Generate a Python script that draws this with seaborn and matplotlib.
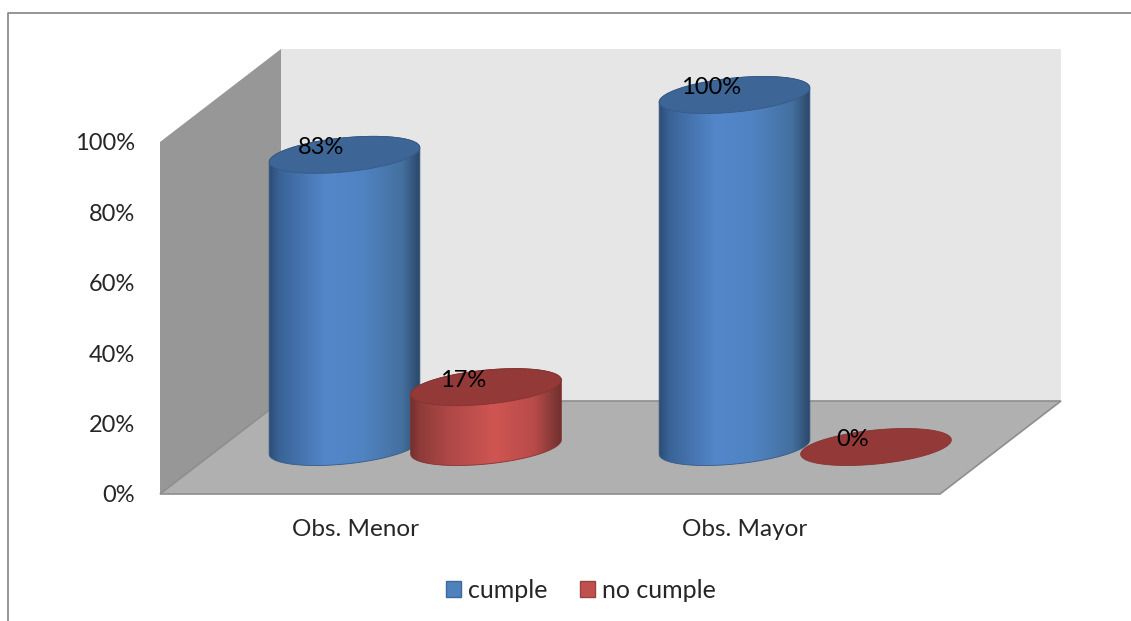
import numpy as np
import pandas as pd
import matplotlib
matplotlib.use("Agg")
import matplotlib.pyplot as plt
from matplotlib.colors import LinearSegmentedColormap
from matplotlib.lines import Line2D
from matplotlib.patches import Polygon
import seaborn as sns

categories = ["Obs. Menor", "Obs. Mayor"]
series_names = ["cumple", "no cumple"]
cumple = [83, 100]
no_cumple = [17, 0]
y_ticks = [0, 20, 40, 60, 80, 100]

df = pd.DataFrame({
    "cat": categories * 2,
    "serie": [series_names[0]] * 2 + [series_names[1]] * 2,
    "valor": cumple + no_cumple,
})

sns.set_style("white")
plt.rcParams["font.family"] = ["Lato", "DejaVu Sans"]
FS_NUM = 17
FS_TXT = 17.5

W, H = 1131, 621
fig = plt.figure(figsize=(W / 100, H / 100), dpi=100)
ax = fig.add_axes([160 / W, (H - 494) / H, 780 / W, 352 / H])

# pixel sizes of one unit on each axis
PX_X = 390.0
PX_Y = 3.52
to_x = lambda px: px / PX_X
to_y = lambda px: px / PX_Y

palette = {"cumple": "#4f81bd", "no cumple": "#c0504d"}
sns.barplot(data=df, x="cat", y="valor", hue="serie", palette=palette,
            width=0.7256, dodge=True, saturation=1, ax=ax)

# walls and floor of the 3d box
depth_x, depth_y = to_x(121), to_y(93)
x0, x1 = -0.5, 1.5
ax.add_patch(Polygon([(x0 + depth_x, depth_y), (x1 + depth_x, depth_y),
                      (x1 + depth_x, 100 + depth_y), (x0 + depth_x, 100 + depth_y)],
                     fc="#e6e6e6", ec="none", zorder=1, clip_on=False))
ax.add_patch(Polygon([(x0, 0), (x0, 100), (x0 + depth_x, 100 + depth_y), (x0 + depth_x, depth_y)],
                     fc="#979797", ec="none", zorder=1.1, clip_on=False))
ax.add_patch(Polygon([(x0, 0), (x1, 0), (x1 + depth_x, depth_y), (x0 + depth_x, depth_y)],
                     fc="#b0b0b0", ec="#8e8e8e", lw=1.2, zorder=1.2, clip_on=False))

# cylinders, built from the bars seaborn placed
shift_x, shift_y = to_x(60.25), to_y(47)
a, b, tilt = 75.7, 17.0, np.radians(5.7)
t0 = np.arctan2(-b * np.sin(tilt), a * np.cos(tilt))


def outline(cx, cy, t):
    ex = a * np.cos(t) * np.cos(tilt) - b * np.sin(t) * np.sin(tilt)
    ey = a * np.cos(t) * np.sin(tilt) + b * np.sin(t) * np.cos(tilt)
    return np.column_stack([cx + to_x(ex), cy + to_y(ey)])


cmaps = [
    LinearSegmentedColormap.from_list("azul", [(0, "#2c4d75"), (0.07, "#3a6498"), (0.38, "#5487ca"),
                                               (0.62, "#5083c2"), (0.88, "#44709f"), (1, "#2a4566")]),
    LinearSegmentedColormap.from_list("rojo", [(0, "#6e302e"), (0.06, "#8e3b39"), (0.25, "#ad4846"),
                                               (0.55, "#cf5552"), (0.82, "#b84b49"), (1, "#6e302e")]),
]
top_colors = ["#3d6596", "#933a38"]
top_edges = ["#375a86", "#853432"]
grad = np.linspace(0, 1, 256)[None, :]

z = 3
for j in range(len(categories)):
    for i, cont in enumerate(ax.containers):
        bar = cont[j]
        bar.set_visible(False)
        cx = bar.get_x() + bar.get_width() / 2 + shift_x
        val = bar.get_height()
        top = val + shift_y
        if val > 0:
            lower = outline(cx, shift_y, np.linspace(t0 + np.pi, t0 + 2 * np.pi, 80))
            upper = outline(cx, top, np.linspace(t0, t0 + np.pi, 80))
            body = Polygon(np.vstack([lower, upper]), fc="none", ec=top_edges[i], lw=0.6,
                           zorder=z + 0.1, clip_on=False)
            ax.add_patch(body)
            half = to_x(a)
            img = ax.imshow(grad, cmap=cmaps[i], aspect="auto", zorder=z, interpolation="bilinear",
                            extent=[cx - half, cx + half, shift_y - to_y(30), top + to_y(30)])
            img.set_clip_box(fig.bbox)
            img.set_clip_path(body)
        cap = outline(cx, top, np.linspace(0, 2 * np.pi, 160))
        ax.add_patch(Polygon(cap, fc=top_colors[i], ec=top_edges[i], lw=0.6, zorder=z + 0.2, clip_on=False))
        ax.text(cx - to_x(23), top + to_y(7), f"{val:.0f}%", ha="center", va="center",
                fontsize=FS_NUM, color="black", zorder=20)
        z += 1

ax.set_xlim(x0, x1)
ax.set_ylim(0, 100)
ax.set_yticks(y_ticks)
ax.set_yticklabels([f"{v}%" for v in y_ticks], fontsize=FS_NUM)
ax.tick_params(axis="y", length=0, pad=18)
ax.tick_params(axis="x", length=0, pad=18, labelsize=FS_TXT)
ax.set_xlabel("")
ax.set_ylabel("")
sns.despine(ax=ax, left=True, bottom=True)

sns.move_legend(ax, "center", bbox_to_anchor=(581 / W, (H - 590) / H),
                bbox_transform=fig.transFigure, ncols=2, title=None, frameon=False,
                fontsize=18, handlelength=0.6, handleheight=0.6, handletextpad=0.27,
                columnspacing=1.3)
for h, ec in zip(ax.get_legend().legend_handles, ["#3c6a9e", "#984240"]):
    h.set_edgecolor(ec)
    h.set_linewidth(1.0)

# outer frame of the chart
fx, fy = 8 / W, (H - 13) / H
fig.add_artist(Line2D([fx, fx, 1], [0, fy, fy], color="#8c8c8c", lw=1.3))

fig.savefig("out.png", dpi=100)
